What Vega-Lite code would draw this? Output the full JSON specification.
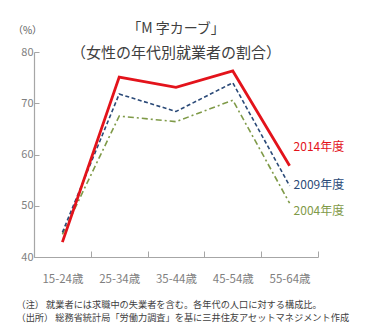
{
  "$schema": "https://vega.github.io/schema/vega-lite/v6.json",
  "autosize": {"type": "none"},
  "width": 284,
  "height": 205,
  "padding": {"left": 34, "top": 52, "right": 49, "bottom": 70},
  "background": "white",
  "config": {
    "font": "Noto Sans CJK JP",
    "view": {"stroke": null}
  },
  "title": {
    "text": "「M 字カーブ」",
    "subtitle": "（女性の年代別就業者の割合）",
    "anchor": "middle",
    "frame": "group",
    "font": "Noto Sans CJK JP",
    "subtitleFont": "Noto Sans CJK JP",
    "fontSize": 14,
    "fontWeight": "normal",
    "subtitleFontSize": 15,
    "color": "#404040",
    "subtitleColor": "#404040",
    "subtitlePadding": 10,
    "offset": -8,
    "dy": 28
  },
  "datasets": {
    "rates": [
      {"age": "15-24歳", "series": "2014年度", "rate": 42.9},
      {"age": "25-34歳", "series": "2014年度", "rate": 75.1},
      {"age": "35-44歳", "series": "2014年度", "rate": 73.1},
      {"age": "45-54歳", "series": "2014年度", "rate": 76.3},
      {"age": "55-64歳", "series": "2014年度", "rate": 57.8},
      {"age": "15-24歳", "series": "2009年度", "rate": 44.8},
      {"age": "25-34歳", "series": "2009年度", "rate": 71.8},
      {"age": "35-44歳", "series": "2009年度", "rate": 68.4},
      {"age": "45-54歳", "series": "2009年度", "rate": 74.0},
      {"age": "55-64歳", "series": "2009年度", "rate": 53.9},
      {"age": "15-24歳", "series": "2004年度", "rate": 44.4},
      {"age": "25-34歳", "series": "2004年度", "rate": 67.5},
      {"age": "35-44歳", "series": "2004年度", "rate": 66.4},
      {"age": "45-54歳", "series": "2004年度", "rate": 70.6},
      {"age": "55-64歳", "series": "2004年度", "rate": 50.5}
    ],
    "labels": [
      {"age": "55-64歳", "series": "2014年度", "rate": 61.4},
      {"age": "55-64歳", "series": "2009年度", "rate": 54.0},
      {"age": "55-64歳", "series": "2004年度", "rate": 48.9}
    ]
  },
  "encoding": {
    "x": {
      "field": "age",
      "type": "nominal",
      "sort": ["15-24歳", "25-34歳", "35-44歳", "45-54歳", "55-64歳"],
      "scale": {"paddingInner": 0, "paddingOuter": 0},
      "axis": {
        "labelAngle": 0,
        "labelFontSize": 11.5,
        "labelColor": "#7f7f7f",
        "labelPadding": 22,
        "domainColor": "#a6a6a6",
        "domainWidth": 1.2,
        "tickColor": "#a6a6a6",
        "tickSize": -6,
        "tickBand": "extent",
        "title": ["（注） 就業者には求職中の失業者を含む。各年代の人口に対する構成比。", "（出所） 総務省統計局「労働力調査」を基に三井住友アセットマネジメント作成"],
        "titleFontSize": 9.2,
        "titleFontWeight": "normal",
        "titleColor": "#404040",
        "titleAlign": "left",
        "titleAnchor": "start",
        "titleBaseline": "alphabetic",
        "titleLineHeight": 13,
        "titleX": -18,
        "titleY": 50
      }
    },
    "y": {
      "field": "rate",
      "type": "quantitative",
      "scale": {"domain": [40, 80], "nice": false, "zero": false},
      "axis": {
        "values": [40, 50, 60, 70, 80],
        "grid": false,
        "labelFontSize": 11,
        "labelColor": "#7f7f7f",
        "labelPadding": 6,
        "domainColor": "#a6a6a6",
        "domainWidth": 1.2,
        "tickColor": "#a6a6a6",
        "tickSize": -5,
        "title": "（%）",
        "titleFontSize": 10,
        "titleFontWeight": "normal",
        "titleColor": "#595959",
        "titleAngle": 0,
        "titleAlign": "center",
        "titleBaseline": "middle",
        "titleX": -7,
        "titleY": -22
      }
    }
  },
  "layer": [
    {
      "data": {"name": "rates"},
      "transform": [{"filter": "datum.series === '2004年度'"}],
      "mark": {"type": "line", "color": "#7f9a48", "strokeWidth": 1.6, "strokeDash": [6, 3, 2, 3]},
      "encoding": {}
    },
    {
      "data": {"name": "rates"},
      "transform": [{"filter": "datum.series === '2009年度'"}],
      "mark": {"type": "line", "color": "#2b4a78", "strokeWidth": 1.6, "strokeDash": [4, 2.5]},
      "encoding": {}
    },
    {
      "data": {"name": "rates"},
      "transform": [{"filter": "datum.series === '2014年度'"}],
      "mark": {"type": "line", "color": "#e3131b", "strokeWidth": 2.8},
      "encoding": {}
    },
    {
      "data": {"name": "labels"},
      "mark": {"type": "text", "align": "left", "baseline": "middle", "dx": 4, "fontSize": 12},
      "encoding": {
        "text": {"field": "series"},
        "color": {
          "field": "series",
          "type": "nominal",
          "scale": {"domain": ["2014年度", "2009年度", "2004年度"], "range": ["#e3131b", "#2b4a78", "#7f9a48"]},
          "legend": null
        }
      }
    }
  ]
}
